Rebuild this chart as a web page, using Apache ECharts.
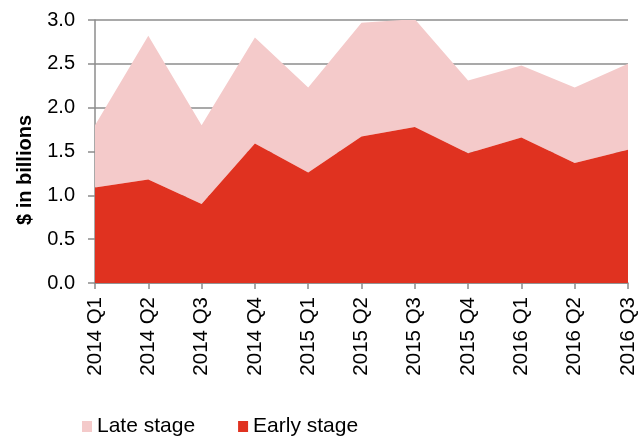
<!DOCTYPE html>
<html><head><meta charset="utf-8">
<script src="https://cdn.jsdelivr.net/npm/echarts@6/dist/echarts.min.js"></script>
<style>html,body{margin:0;padding:0;background:#fff}#c{width:642px;height:437px}</style>
</head><body><div id="c"></div>
<script>
const categories = ['2014 Q1','2014 Q2','2014 Q3','2014 Q4','2015 Q1','2015 Q2','2015 Q3','2015 Q4','2016 Q1','2016 Q2','2016 Q3'];
const earlyStage = [1.09, 1.18, 0.90, 1.59, 1.26, 1.67, 1.78, 1.48, 1.66, 1.37, 1.52];
const lateStage  = [0.71, 1.64, 0.90, 1.21, 0.97, 1.30, 1.23, 0.83, 0.82, 0.86, 0.98];
const yTicks = [0, 0.5, 1.0, 1.5, 2.0, 2.5, 3.0];
const yTitle = '$ in billions';

const chart = echarts.init(document.getElementById('c'), null, {renderer:'canvas'});
const font = 'Liberation Sans, Arial, sans-serif';
chart.setOption({
  animation: false,
  grid: {left: 95, right: 14, top: 20, bottom: 154, containLabel: false},
  legend: {
    data: ['Late stage','Early stage'],
    top: 411, left: 77,
    icon: 'rect', itemWidth: 10, itemHeight: 11, itemGap: 43,
    textStyle: {fontFamily: font, fontSize: 21, color: '#000', padding:[0,0,0,0]}
  },
  graphic: [{
    type: 'text', x: 25, y: 170, rotation: Math.PI / 2,
    style: {text: yTitle, font: 'bold 20px ' + font, fill: '#000', align: 'center', verticalAlign: 'middle'}
  }],
  xAxis: {
    type: 'category', data: categories, boundaryGap: false,
    axisLine: {lineStyle: {color: '#8c8c8c', width: 1.5}},
    axisTick: {show: true, length: 6, alignWithLabel: true, lineStyle: {color: '#8c8c8c', width: 1.5}},
    axisLabel: {rotate: 90, fontFamily: font, fontSize: 20.5, color: '#000', margin: 14, interval: 0}
  },
  yAxis: {
    type: 'value', min: 0, max: 3, interval: 0.5,
    axisLine: {show: true, lineStyle: {color: '#8c8c8c', width: 1.5}},
    axisTick: {show: true, length: 7, lineStyle: {color: '#8c8c8c', width: 1.5}},
    splitLine: {lineStyle: {color: '#8c8c8c', width: 1.5}},
    axisLabel: {fontFamily: font, fontSize: 20, color: '#000', margin: 20,
      formatter: v => yTicks.includes(v) ? v.toFixed(1) : ''}
  },
  series: [
    {name: 'Early stage', type: 'line', stack: 'total', data: earlyStage,
     showSymbol: false, symbol: 'none', lineStyle: {width: 0}, itemStyle: {color: '#e03220'},
     areaStyle: {color: '#e03220', opacity: 1}, z: 3},
    {name: 'Late stage', type: 'line', stack: 'total', data: lateStage,
     showSymbol: false, symbol: 'none', lineStyle: {width: 0}, itemStyle: {color: '#f4caca'},
     areaStyle: {color: '#f4caca', opacity: 1}, z: 2}
  ]
});
</script></body></html>
